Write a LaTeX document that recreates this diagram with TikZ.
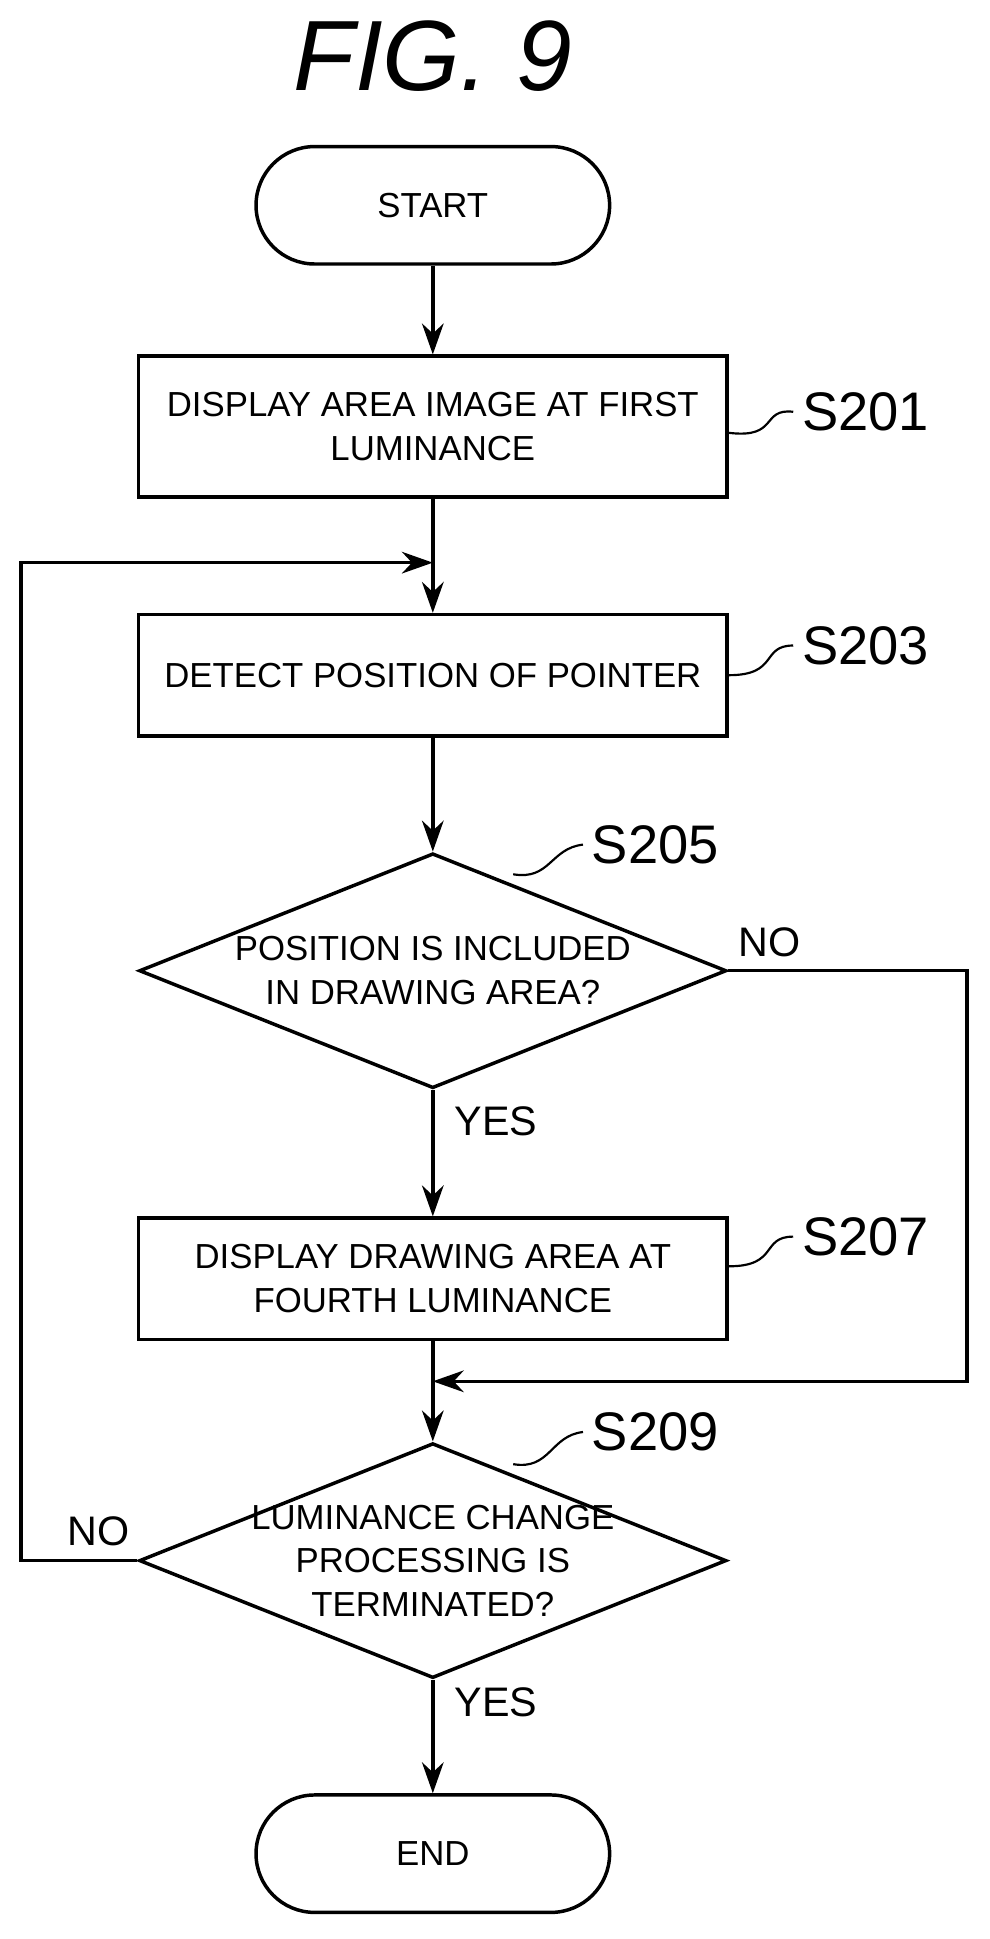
\documentclass[tikz,border=0pt]{standalone}
\usepackage{fontspec}
\setmainfont{Liberation Sans}
\usetikzlibrary{shapes.geometric,arrows.meta}

\begin{document}
\begin{tikzpicture}[
            x=0.02cm, y=-0.02cm,
            line width=1.6pt,
            >={Stealth[length=5mm,width=3.5mm]},
            every node/.style={font=\fontsize{16}{20}\selectfont, align=center},
            proc/.style={draw, minimum width=9.52cm, minimum height=2.1cm, inner sep=2pt},
            term/.style={draw, rounded corners=0.95cm, minimum width=5.72cm, minimum height=1.9cm},
            test/.style={draw, diamond, aspect=2.5, minimum width=9.5cm, minimum height=3.8cm, inner sep=0pt},
            tag/.style={font=\fontsize{25}{30}\selectfont},
            yn/.style={font=\fontsize{19}{23}\selectfont},
            ]
            \useasboundingbox (0,0) rectangle (800,1568);
            \node[font=\fontsize{46}{50}\itshape] (title) at (350,45) {FIG. 9};

            \node[term] (start) at (350,166) {START};
            \node[proc, minimum height=2.28cm] (s201) at (350,345) {DISPLAY AREA IMAGE AT FIRST\\LUMINANCE};
            \node[proc, minimum height=1.96cm] (s203) at (350,546) {DETECT POSITION OF POINTER};
            \node[test] (s205) at (350,785) {POSITION IS INCLUDED\\IN DRAWING AREA?};
            \node[proc, minimum height=1.96cm] (s207) at (350,1034) {DISPLAY DRAWING AREA AT\\FOURTH LUMINANCE};
            \node[test, inner sep=-16pt] (s209) at (350,1262) {LUMINANCE CHANGE\\PROCESSING IS\\TERMINATED?};
            \node[term] (end) at (350,1499) {END};

            % step labels
            \node[tag] (t201) at (700,333) {S201};
            \node[tag] (t203) at (700,522) {S203};
            \node[tag] (t205) at (530,683) {S205};
            \node[tag] (t207) at (700,1000) {S207};
            \node[tag] (t209) at (530,1158) {S209};
            \draw[line width=1pt] (s201.east) ++(0,5) .. controls (630,355) and (615,330) .. (t201.west);
            \draw[line width=1pt] (s203.east) .. controls (630,546) and (615,522) .. (t203.west);
            \draw[line width=1pt] (415,707) .. controls (445,712) and (445,686) .. (t205.west);
            \draw[line width=1pt] (s207.east) ++(0,-10) .. controls (630,1024) and (615,1000) .. (t207.west);
            \draw[line width=1pt] (415,1184) .. controls (445,1189) and (445,1161) .. (t209.west);

            \coordinate (j1) at (350,455);
            \coordinate (j2) at (350,1117);

            \draw[->] (start) -- (s201);
            \draw (s201) -- (j1);
            \draw[->] (j1) -- (s203);
            \draw[->] (s203) -- (s205);
            \draw[->] (s205) -- node[yn, pos=0.25, right=6pt] {YES} (s207);
            \draw (s207) -- (j2);
            \draw[->] (j2) -- (s209);
            \draw[->] (s209) -- node[yn, pos=0.2, right=6pt] {YES} (end);

            \draw[->] (s205.east) -- (782,785) -- (782,1117) -- (j2);
            \node[yn] (no1) at (622,762) {NO};
            \draw[->] (s209.west) -- (17,1262) -- (17,455) -- (j1);
            \node[yn] (no2) at (80,1238) {NO};
        \end{tikzpicture}
\end{document}
